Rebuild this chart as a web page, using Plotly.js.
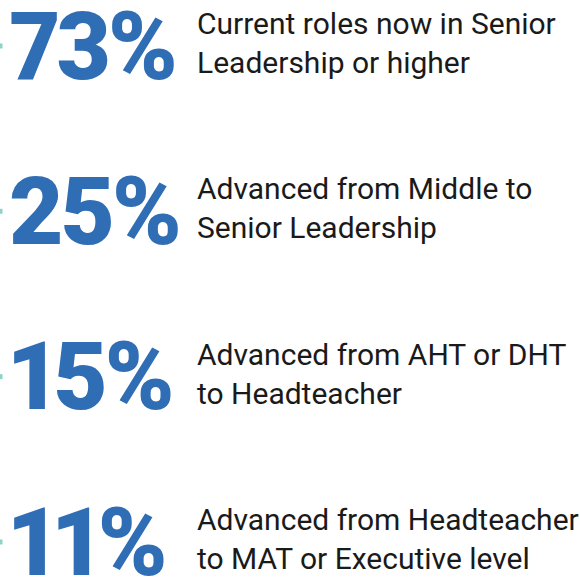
<!DOCTYPE html>
<html><head><meta charset="utf-8">
<script src="https://cdn.plot.ly/plotly-3.0.1.min.js"></script>
<style>
html,body{margin:0;padding:0;background:#fff;}
#chart{width:580px;height:578px;}
text.bignum{letter-spacing:-3px;font-variant-numeric:proportional-nums;font-feature-settings:"pnum" 1;}
</style>
</head><body><div id="chart"></div>
<script>
const categories = ["senior", "middleToSenior", "ahtDhtToHead", "headToMat"];
const percentValues = [73, 25, 15, 11];
const descriptions = [
  "Current roles now in Senior<br>Leadership or higher",
  "Advanced from Middle to<br>Senior Leadership",
  "Advanced from AHT or DHT<br>to Headteacher",
  "Advanced from Headteacher<br>to MAT or Executive level"
];

const BLUE = "#2f6db5";
const TEAL = "#8fd3c8";
const numberX = categories.map(() => 9);
const descX = categories.map(() => 197);
const edgeX = categories.map(() => 0);

const traces = [
  {
    type: "scatter", mode: "markers", x: edgeX, y: categories,
    marker: {symbol: "square", size: 5, color: TEAL},
    hoverinfo: "skip", showlegend: false, cliponaxis: true
  },
  {
    type: "scatter", mode: "text", x: numberX, y: categories, yaxis: "y2",
    text: percentValues.map(v => v + "%"),
    textposition: "middle right",
    textfont: {family: "Roboto", size: 94, color: BLUE, weight: 900},
    hoverinfo: "skip", showlegend: false, cliponaxis: false
  },
  {
    type: "scatter", mode: "text", x: descX, y: categories,
    text: descriptions,
    textposition: "middle right",
    textfont: {family: "Roboto", size: 30, color: "#1a1a1a"},
    hoverinfo: "skip", showlegend: false, cliponaxis: false
  }
];

const layout = {
  width: 580, height: 578,
  margin: {l: 0, r: 0, t: 0, b: 0},
  paper_bgcolor: "#fff", plot_bgcolor: "#fff",
  xaxis: {range: [0, 580], visible: false, fixedrange: true},
  yaxis: {type: "category", categoryorder: "array", categoryarray: categories,
          range: [3.218, -0.278], visible: false, fixedrange: true},
  yaxis2: {type: "category", categoryorder: "array", categoryarray: categories,
          overlaying: "y", range: [3.163, -0.3327], visible: false, fixedrange: true},
  showlegend: false
};
Plotly.newPlot("chart", traces, layout, {staticPlot: true, displayModeBar: false}).then(gd => {
  gd.querySelectorAll(".textpoint text").forEach(t => {
    if (parseFloat(t.style.fontSize) > 60) t.classList.add("bignum");
  });
});
</script></body></html>
